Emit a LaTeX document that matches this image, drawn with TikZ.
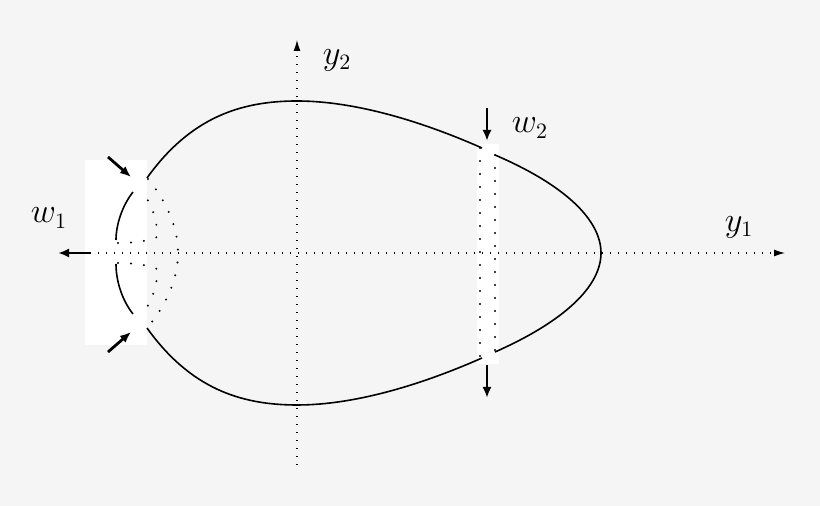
\documentclass[tikz,border=0pt]{standalone}
\usetikzlibrary{arrows.meta}
\definecolor{bgcol}{HTML}{F5F5F5}
\tikzset{
  axisline/.style={line width=0.6pt, dash pattern=on 0.6pt off 3.4pt, -{Latex[length=5.5pt,width=3.5pt]}},
  cutline/.style={line width=1.1pt, line cap=round, dash pattern=on 0pt off 6.5pt},
  boldarrow/.style={line width=1.4pt, -{Latex[length=5.5pt,width=4.5pt]}},
  curve/.style={line width=0.8pt},
  lab/.style={font=\fontsize{16}{19}\selectfont},
}
\begin{document}
\begin{tikzpicture}[x=0.5pt, y=-0.5pt]
    \fill [bgcol] (0,0) rectangle (820,506);
    \useasboundingbox (0,0) rectangle (820,506);

    \fill [white] (85,160) rectangle (147,345);
    \fill [white] (477,144) rectangle (499,364);

    \coordinate (xs) at (90,253);
    \coordinate (xe) at (785,253);
    \coordinate (ys) at (297,465);
    \coordinate (ye) at (297,40);
    \draw [axisline] (xs) -- (xe);
    \draw [axisline] (ys) -- (ye);

    \node [lab] (y1) at (739,227) {$y_1$};
    \node [lab] (y2) at (337,60) {$y_2$};
    \node [lab] (w1) at (49,218) {$w_1$};
    \node [lab] (w2) at (530,128) {$w_2$};

    \draw [curve] (147,178) .. controls (190,118) and (240,101) .. (297,101)
      .. controls (360,101) and (430,125) .. (482,148);
    \draw [curve] (495,155) .. controls (565,185) and (601,220) .. (601,253)
      .. controls (601,286) and (565,321) .. (495,352);
    \draw [curve] (482,358) .. controls (430,381) and (360,405) .. (297,405)
      .. controls (240,405) and (190,388) .. (147,328);

    \draw [cutline] (480,148) -- (480,358);
    \draw [cutline] (495,155) -- (495,352);

    \draw [curve] (133,192) .. controls (122,206) and (116,225) .. (116,240);
    \draw [curve] (116,264) .. controls (116,281) and (122,300) .. (133,314);
    \draw [cutline] (118,243) .. controls (132,243) and (150,241) .. (157,237)
      .. controls (158,222) and (152,205) .. (143,193);
    \draw [cutline] (118,263) .. controls (132,263) and (150,265) .. (157,269)
      .. controls (158,284) and (152,301) .. (143,313);
    \draw [cutline] (148,179) .. controls (165,200) and (178,225) .. (178,253)
      .. controls (178,281) and (165,306) .. (148,327);

    \coordinate (a1) at (108,157);
    \coordinate (a2) at (131,177);
    \coordinate (b1) at (108,352);
    \coordinate (b2) at (131,332);
    \coordinate (c1) at (487,108);
    \coordinate (c2) at (487,141);
    \coordinate (d1) at (487,365);
    \coordinate (d2) at (487,398);
    \draw [boldarrow] (a1) -- (a2);
    \draw [boldarrow] (b1) -- (b2);
    \draw [boldarrow] (c1) -- (c2);
    \draw [boldarrow] (d1) -- (d2);
    \draw [boldarrow] (xs) -- (58,253);
\end{tikzpicture}
\end{document}
